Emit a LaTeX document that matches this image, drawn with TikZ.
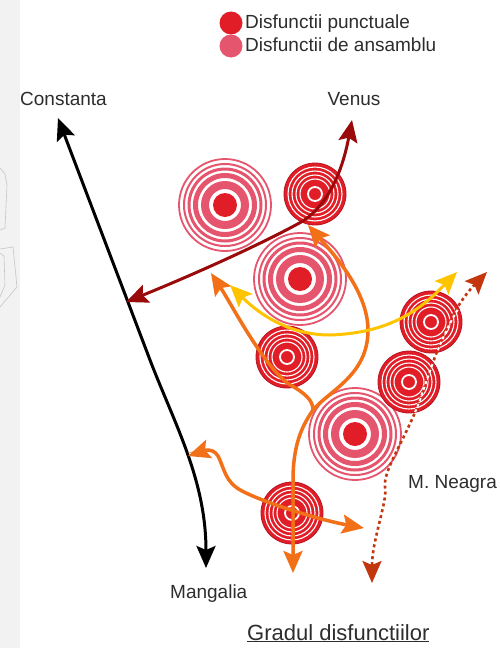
\documentclass[tikz,border=0pt]{standalone}
\usepackage{fontspec}
\setmainfont{Liberation Sans}
\usetikzlibrary{arrows.meta}

\definecolor{rosu}{RGB}{225,30,40}
\definecolor{rosuinchis}{RGB}{185,20,35}
\definecolor{roz}{RGB}{230,85,110}
\definecolor{visiniu}{RGB}{155,10,10}
\definecolor{portocaliu}{RGB}{242,112,24}
\definecolor{galben}{RGB}{255,196,0}
\definecolor{caramiziu}{RGB}{195,55,15}
\definecolor{textgri}{RGB}{45,45,45}
\definecolor{fundalgri}{RGB}{242,242,242}

\tikzset{
  eticheta/.style={text=textgri, inner sep=0pt, font=\fontsize{19}{22}\selectfont},
  punctuala/.style={circle, minimum size=62pt, inner sep=0pt,
    fill=rosu, draw=rosuinchis, line width=0.8pt,
    path picture={
      \foreach \raza/\gros in {7/1.8, 15/1.1, 19/1.1, 23/1.1, 27/1.1}
        \draw[white, line width=\gros pt]
        (path picture bounding box.center) circle (\raza pt);
    }},
  ansamblu/.style={circle, minimum size=96pt, inner sep=0pt,
    path picture={
      \foreach \raza/\gros in {20/8, 29.5/5, 36/3, 41/2, 46/1.8}
        \draw[roz, line width=\gros pt]
        (path picture bounding box.center) circle (\raza pt);
      \fill[rosu] (path picture bounding box.center) circle (12pt);
    }},
  sageata/.style={line width=3pt,
    >={Stealth[length=22pt,width=19pt,inset=4pt]}},
}

% drumul punctat (folosit de doua ori)
\newcommand{\drumpunctat}{(sus-punctat)
  .. controls (450,310) and (437,350) .. (420,400)
  .. controls (405,440) and (383,470) .. (385,487)
  .. controls (388,500) and (372,540) .. (jos-punctat)}

\begin{document}
\begin{tikzpicture}[x=1pt,y=-1pt]

\useasboundingbox (0,0) rectangle (500,648);
\fill[white] (0,0) rectangle (500,648);

% Banda laterala
\fill[fundalgri] (0,0) rectangle (20,648);
\draw[gray!45, line width=0.6pt]
(0,168) -- (5,174) -- (7,185) -- (5,228) -- (0,230);
\draw[gray!45, line width=0.6pt]
(0,249) -- (13,247) -- (17,287) -- (0,307);
\draw[gray!45, line width=0.6pt]
(0,253) -- (4,256) -- (5,285) -- (0,297);

% Legenda
\node[circle, fill=rosu, minimum size=23pt, inner sep=0pt]
(leg-punct) at (231,23) {};
\node[circle, fill=roz, minimum size=23pt, inner sep=0pt]
(leg-ansamblu) at (231,46) {};
\node[eticheta, anchor=base west]
(txt-punct) at (245,28) {Disfunctii punctuale};
\node[eticheta, anchor=base west]
(txt-ansamblu) at (245,51) {Disfunctii de ansamblu};

% Cercuri
\node[ansamblu] (a1) at (225,205) {};
\node[punctuala] (p1) at (315,194) {};
\node[ansamblu] (a2) at (300,279) {};
\node[punctuala] (p2) at (287,357) {};
\node[punctuala] (p3) at (431,322) {};
\node[ansamblu] (a3) at (355,434) {};
\node[punctuala] (p4) at (409,382) {};
\node[punctuala] (p5) at (292,513) {};

% Capete
\coordinate (constanta-v) at (58,118);
\coordinate (cot-negru) at (150,360);
\coordinate (mangalia-v) at (206,568);
\coordinate (venus-v) at (352,120);
\coordinate (nod-visiniu) at (303,221);
\coordinate (drum-v) at (126,302);
\coordinate (jos-port) at (293,573);
\coordinate (nod-port) at (313,410);
\coordinate (sus-port) at (308,225);
\coordinate (stanga-port) at (211,273);
\coordinate (vest-port) at (188,456);
\coordinate (est-port) at (364,528);
\coordinate (stanga-galben) at (230,285);
\coordinate (dreapta-galben) at (457,272);
\coordinate (sus-punctat) at (487,272);
\coordinate (jos-punctat) at (372,583);

% Drumul Constanta - Mangalia
\draw[sageata, <->, black]
(constanta-v) -- (cot-negru)
.. controls (175,425) and (206,480) .. (mangalia-v);

% Venus
\draw[sageata, <->, visiniu]
(venus-v)
.. controls (343,168) and (330,203) .. (nod-visiniu)
.. controls (260,245) and (190,276) .. (drum-v);

% Punctat
\draw[sageata, <->, caramiziu, line width=2.6pt, dash pattern=on 3pt off 3pt]
\drumpunctat;
\begin{scope}
\clip (p3.center) circle (31) (p4.center) circle (31);
\draw[white, line width=2pt, dash pattern=on 3pt off 3pt]
\drumpunctat;
\end{scope}

% Portocaliu
\draw[sageata, <->, portocaliu, line width=3.5pt]
(jos-port) -- (293,480)
.. controls (293,440) and (305,422) .. (nod-port)
.. controls (330,390) and (368,375) .. (368,330)
.. controls (368,290) and (330,250) .. (sus-port);
\draw[sageata, ->, portocaliu, line width=3.5pt]
(nod-port)
.. controls (313,400) and (305,393) .. (287,383)
.. controls (260,360) and (232,305) .. (stanga-port);
\draw[sageata, <->, portocaliu, line width=3.5pt]
(vest-port)
.. controls (200,452) and (212,446) .. (218,456)
.. controls (225,470) and (225,482) .. (242,491)
.. controls (265,503) and (320,520) .. (est-port);

% Galben
\draw[sageata, <->, galben]
(stanga-galben)
.. controls (260,315) and (290,335) .. (330,335)
.. controls (390,333) and (420,310) .. (dreapta-galben);

% Etichete
\node[eticheta, anchor=base west]
(constanta) at (20,105) {Constanta};
\node[eticheta, anchor=base]
(venus) at (354,105) {Venus};
\node[eticheta, anchor=base west]
(m-neagra) at (408,488) {M. Neagra};
\node[eticheta, anchor=base west]
(mangalia) at (170,598) {Mangalia};
\node[eticheta, anchor=base west, font=\fontsize{22}{26}\selectfont]
(titlu) at (247,640) {\underline{Gradul disfunctiilor}};

\end{tikzpicture}
\end{document}
